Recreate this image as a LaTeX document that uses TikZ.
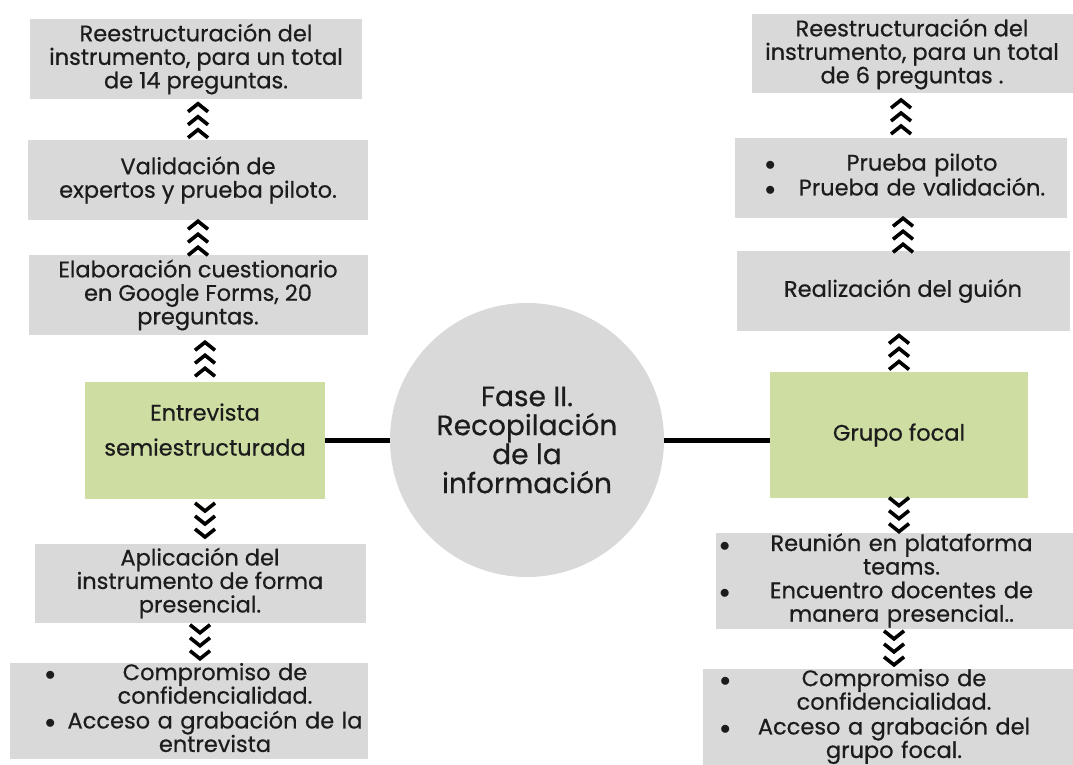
\documentclass[tikz,border=0pt]{standalone}
\usepackage{fontspec}
\setmainfont{Poppins}[FakeBold=0.6]
\usepackage{array}
\usetikzlibrary{decorations.markings}

\definecolor{boxgrey}{HTML}{D9D9D9}
\definecolor{boxgreen}{HTML}{CEDEA2}
\definecolor{inkdark}{HTML}{1C1C1C}

% three stacked chevrons, pointing along the path
\newcommand{\chevs}{\foreach \d in {-13,0,13}{\draw[line width=3.6pt] ({\d-5},10) -- ({\d+3},0) -- ({\d-5},-10);}}
% bullet rows: left pad, text column width, rows
\newcommand{\bulletrows}[3]{\begin{tabular}{@{\hspace{#1}}p{20pt}@{}>{\centering}p{#2}@{}}#3\end{tabular}}
\newcommand{\bul}{$\bullet$}

\begin{document}
\begin{tikzpicture}[x=1pt, y=-1pt, font=\fontsize{22.5}{23.5}\selectfont, text=inkdark]
    % Styles
    \tikzstyle{block} = [rectangle, fill=boxgrey, align=center, inner sep=0pt]
    \tikzstyle{keyblock} = [rectangle, fill=boxgreen, align=center, inner sep=0pt, font=\fontsize{22.5}{35}\selectfont]
    \tikzstyle{listblock} = [block, align=left]
    \tikzstyle{link} = [line width=5pt]
    \tikzstyle{chevrons} = [postaction={decorate}, decoration={markings, mark=at position 0.5 with {\chevs}}]

    \useasboundingbox (0,0) rectangle (1073,765);

    % Centre
    \node[circle, fill=boxgrey, minimum size=274, inner sep=0pt, align=center, font=\fontsize{28}{29}\selectfont] (fase) at (527,440) {Fase II.\\Recopilación\\de la\\información};

    % Left column
    \node[block, minimum width=332, minimum height=80] (L1) at (196,59) {Reestructuración del\\instrumento, para un total\\de 14 preguntas.};
    \node[block, minimum width=340, minimum height=79] (L2) at (198,180) {Validación de\\expertos y prueba piloto.};
    \node[block, minimum width=339, minimum height=80] (L3) at (198,295) {Elaboración cuestionario\\en Google Forms, 20\\preguntas.};
    \node[keyblock, minimum width=240, minimum height=117] (L4) at (205,440) {Entrevista\\semiestructurada\\[-14pt]};
    \node[block, minimum width=331, minimum height=79] (L5) at (200,583) {Aplicación del\\instrumento de forma\\presencial.};
    \node[listblock, text width=358, minimum height=92] (L6) at (189,711) {\bulletrows{35pt}{300pt}{\bul & Compromiso de\\ confidencialidad.\tabularnewline \bul & Acceso a grabación de la\\ entrevista}};

    % Right column
    \node[block, minimum width=321, minimum height=79] (R1) at (912,54) {Reestructuración del\\instrumento, para un total\\de 6 preguntas .};
    \node[listblock, text width=332, minimum height=79] (R2) at (901,178) {\bulletrows{30pt}{274pt}{\bul & Prueba piloto\tabularnewline \bul & Prueba de validación.}};
    \node[block, minimum width=333, minimum height=80] (R3) at (903,291) {Realización del guión};
    \node[keyblock, minimum width=258, minimum height=126] (R4) at (899,435) {Grupo focal};
    \node[listblock, text width=357, minimum height=87] (R5) at (894,581) {\bulletrows{4pt}{324pt}{\bul & Reunión en plataforma\\ teams.\tabularnewline \bul & Encuentro docentes de\\ manera presencial..}};
    \node[listblock, text width=370, minimum height=92] (R6) at (888,717) {\bulletrows{17pt}{308pt}{\bul & Compromiso de\\ confidencialidad.\tabularnewline \bul & Acceso a grabación del\\ grupo focal.}};

    % Lines
    \draw[link] (L4.east) -- (fase.west);
    \draw[link] (fase.east) -- (fase.east -| R4.west);

    % Chevrons
    \path[chevrons] (L2.north) -- (L2.north |- L1.south);
    \path[chevrons] (L3.north) -- (L3.north |- L2.south);
    \path[chevrons] (L4.north) -- (L4.north |- L3.south);
    \path[chevrons] (L4.south) -- (L4.south |- L5.north);
    \path[chevrons] (L5.south) -- (L5.south |- L6.north);
    \path[chevrons] (R2.north) -- (R2.north |- R1.south);
    \path[chevrons] (R3.north) -- (R3.north |- R2.south);
    \path[chevrons] (R4.north) -- (R4.north |- R3.south);
    \path[chevrons] (R4.south) -- (R4.south |- R5.north);
    \path[chevrons] (R5.south) -- (R5.south |- R6.north);
\end{tikzpicture}
\end{document}
